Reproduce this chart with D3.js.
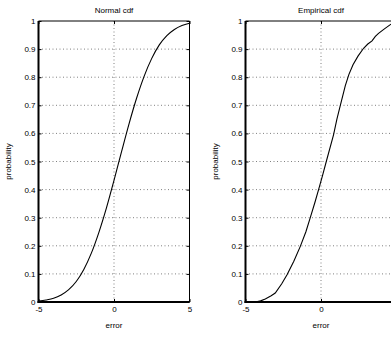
<!DOCTYPE html>
<html>
<head>
<meta charset="utf-8">
<script src="https://cdn.jsdelivr.net/npm/d3@7"></script>
<style>
  body { margin: 0; background: #fff; }
  svg { display: block; font-family: "Liberation Sans", Arial, sans-serif; }
  .tick text { font-size: 8px; fill: #000; }
  .label { font-size: 8px; fill: #000; }
</style>
</head>
<body>
<div id="chart"></div>
<script>
// ticks
const errTicks = [-5, 0, 5];
const probTicks = [0, 0.1, 0.2, 0.3, 0.4, 0.5, 0.6, 0.7, 0.8, 0.9, 1];

// normal cdf
const normalErr = [-5, -4.5, -4, -3.5, -3, -2.5, -2, -1.5, -1, -0.5, 0, 0.5, 1, 1.5, 2, 2.5, 3, 3.5, 4, 4.5, 5];
const normalProb = [0.003, 0.007, 0.013, 0.025, 0.044, 0.073, 0.116, 0.174, 0.248, 0.335, 0.433, 0.535, 0.635, 0.726, 0.804, 0.867, 0.915, 0.948, 0.970, 0.984, 0.992];

// empirical cdf
const empErr = [-4.35, -4.0, -3.69, -3.3, -3.03, -2.6, -2.25, -1.8, -1.37, -1.0, -0.71, -0.4, -0.16, 0.1, 0.35, 0.83, 1.05, 1.28, 1.61, 1.85, 2.12, 2.45, 2.82, 3.1, 3.38, 3.6, 3.81, 4.2, 4.64, 4.85];
const empProb = [0, 0.004, 0.011, 0.022, 0.032, 0.065, 0.097, 0.145, 0.198, 0.25, 0.30, 0.355, 0.40, 0.45, 0.50, 0.595, 0.65, 0.70, 0.77, 0.81, 0.844, 0.875, 0.903, 0.918, 0.929, 0.945, 0.956, 0.972, 0.989, 1];

const W = 391, H = 337;
const plotTop = 21, plotBottom = 302, plotW = 151;

const svg = d3.select("#chart").append("svg")
    .attr("width", W)
    .attr("height", H);

const panels = [
  { title: "Normal cdf", left: 38.5, xs: normalErr, ys: normalProb, curve: d3.curveMonotoneX },
  { title: "Empirical cdf", left: 245.5, xs: empErr, ys: empProb, curve: d3.curveLinear }
];

panels.forEach(p => {
  let h = plotBottom - plotTop;
  let x = d3.scaleLinear().domain([-5, 5]).range([0, plotW]);
  let y = d3.scaleLinear().domain([0, 1]).range([h, 0]);

  let g = svg.append("g")
      .attr("transform", "translate(" + p.left + "," + plotTop + ")");

  // dotted grid
  g.selectAll(".hgrid")
      .data(probTicks.filter(d => d > 0 && d < 1))
    .enter().append("line")
      .attr("x1", 0).attr("x2", plotW)
      .attr("y1", d => y(d)).attr("y2", d => y(d))
      .attr("stroke", "#808080")
      .attr("stroke-dasharray", "1,2.5");
  g.selectAll(".vgrid")
      .data(errTicks.filter(d => d > -5 && d < 5))
    .enter().append("line")
      .attr("x1", d => x(d)).attr("x2", d => x(d))
      .attr("y1", 0).attr("y2", h)
      .attr("stroke", "#808080")
      .attr("stroke-dasharray", "1,2.5");

  // axes with inward ticks
  g.append("g")
      .call(d3.axisLeft(y).tickValues(probTicks).tickSize(-3).tickPadding(3).tickFormat(d => String(d)))
      .call(a => a.select(".domain").remove());
  g.append("g")
      .attr("transform", "translate(" + plotW + ",0)")
      .call(d3.axisRight(y).tickValues(probTicks).tickSize(-3).tickFormat(""))
      .call(a => a.select(".domain").remove());
  // labels that would fall past the window edge are left out (the figure is cropped there)
  g.append("g")
      .attr("transform", "translate(0," + h + ")")
      .call(d3.axisBottom(x).tickValues(errTicks).tickSize(-3).tickPadding(4)
        .tickFormat(d => (p.left + x(d) + 3 > W) ? "" : String(d)))
      .call(a => a.select(".domain").remove());
  g.append("g")
      .call(d3.axisTop(x).tickValues(errTicks).tickSize(-3).tickFormat(""))
      .call(a => a.select(".domain").remove());

  // box
  g.append("line").attr("x1", 0).attr("x2", plotW).attr("y1", 0).attr("y2", 0)
      .attr("stroke", "#000").attr("stroke-width", 1);
  g.append("line").attr("x1", plotW).attr("x2", plotW).attr("y1", 0).attr("y2", h)
      .attr("stroke", "#000").attr("stroke-width", 1);
  g.append("line").attr("x1", 0).attr("x2", 0).attr("y1", 0).attr("y2", h + 1)
      .attr("stroke", "#000").attr("stroke-width", 2);
  g.append("line").attr("x1", -1).attr("x2", plotW).attr("y1", h).attr("y2", h)
      .attr("stroke", "#000").attr("stroke-width", 2);

  // the cdf line
  let line = d3.line()
      .x((d, i) => x(p.xs[i]))
      .y(d => y(d))
      .curve(p.curve);
  g.append("path")
      .datum(p.ys)
      .attr("fill", "none")
      .attr("stroke", "#000")
      .attr("stroke-width", 1.1)
      .attr("d", line);

  // labels
  g.append("text")
      .attr("class", "label")
      .attr("x", plotW / 2)
      .attr("y", -8)
      .attr("text-anchor", "middle")
      .text(p.title);
  g.append("text")
      .attr("class", "label")
      .attr("x", plotW / 2)
      .attr("y", h + 26)
      .attr("text-anchor", "middle")
      .text("error");
  g.append("text")
      .attr("class", "label")
      .attr("transform", "translate(-28," + (h / 2) + ") rotate(-90)")
      .attr("text-anchor", "middle")
      .text("probability");
});
</script>
</body>
</html>
